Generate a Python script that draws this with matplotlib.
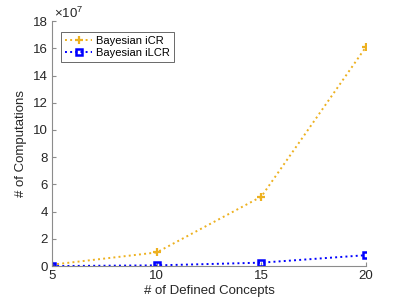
import matplotlib
matplotlib.use("Agg")
import matplotlib.pyplot as plt
import numpy as np

concepts = [5, 10, 15, 20]
icr = [0.1e7, 1.0e7, 5.1e7, 16.1e7]
ilcr = [0.0e7, 0.05e7, 0.25e7, 0.8e7]
scale = 1e7

plt.rcParams['font.family'] = ['Liberation Sans', 'DejaVu Sans']
plt.rcParams['mathtext.fontset'] = 'custom'
plt.rcParams['mathtext.rm'] = 'Liberation Sans'
fig = plt.figure(figsize=(4.03, 3.02), dpi=100)
ax = fig.add_axes([0.129, 0.119, 0.779, 0.811])

ax.plot(concepts, np.array(icr) / scale, linestyle=':', color='#EDB120', marker='+',
        markersize=6, markeredgewidth=1.6, linewidth=1.4, label='Bayesian iCR')
ax.plot(concepts, np.array(ilcr) / scale, linestyle=':', color='#0000FF', marker='s',
        markersize=5, markerfacecolor='none', markeredgewidth=1.8, linewidth=1.4,
        label='Bayesian iLCR')

ax.set_xlim(5, 20)
ax.set_ylim(0, 18)
ax.set_xticks([5, 10, 15, 20])
ax.set_yticks(range(0, 19, 2))
for s in ['top', 'right']:
    ax.spines[s].set_visible(False)
for s in ['left', 'bottom']:
    ax.spines[s].set_color('#8c8c8c')
    ax.spines[s].set_linewidth(0.8)
ax.tick_params(direction='in', length=3, color='#8c8c8c', labelsize=9.5, labelcolor='#262626', width=0.8, pad=3)
ax.set_xlabel('# of Defined Concepts', fontsize=9.5, color='#262626', labelpad=2)
ax.set_ylabel('# of Computations', fontsize=9.5, color='#262626', labelpad=4)
ax.text(0.005, 1.0, r'$\times\mathrm{10}^{7}$', transform=ax.transAxes, fontsize=9.5,
        color='#262626', ha='left', va='bottom')
leg = ax.legend(loc='upper left', bbox_to_anchor=(0.03, 0.955), fontsize=8,
                frameon=True, fancybox=False, edgecolor='#262626', handlelength=2.4,
                borderpad=0.35, labelspacing=0.15, handletextpad=0.4, borderaxespad=0)
leg.get_frame().set_linewidth(0.6)
fig.savefig('out.png', dpi=100)
